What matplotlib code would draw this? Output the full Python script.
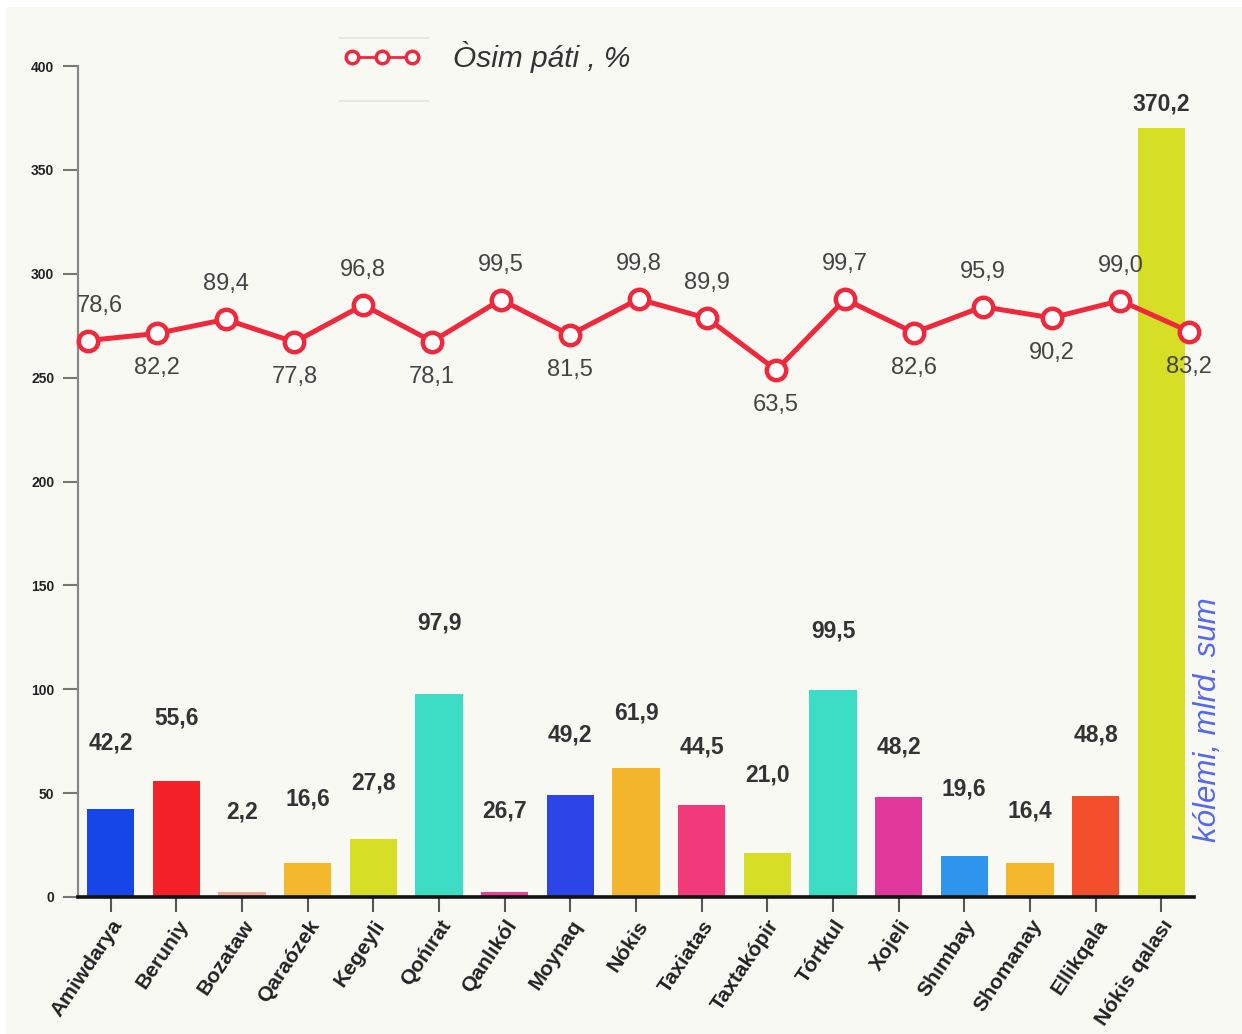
import matplotlib
matplotlib.use("Agg")
import matplotlib.pyplot as plt
from matplotlib.lines import Line2D
from matplotlib.patches import Rectangle

plt.rcParams['font.family'] = ['Liberation Sans', 'DejaVu Sans']

# ---- data ----
districts = ["Amiwdarya", "Beruniy", "Bozataw", "Qaraózek", "Kegeyli", "Qońırat",
             "Qanlıkól", "Moynaq", "Nókis", "Taxiatas", "Taxtakópir", "Tórtkul",
             "Xojeli", "Shımbay", "Shomanay", "Ellikqala", "Nókis qalası"]
# bar heights as drawn in the picture (Qanlıkól bar is drawn near zero)
volume = [42.2, 55.6, 2.2, 16.6, 27.8, 97.9, 2.4, 49.2, 61.9, 44.5, 21.0, 99.5,
          48.2, 19.6, 16.4, 48.8, 370.2]
# value labels printed above the bars
volume_labels = ["42,2", "55,6", "2,2", "16,6", "27,8", "97,9", "26,7", "49,2", "61,9",
                 "44,5", "21,0", "99,5", "48,2", "19,6", "16,4", "48,8", "370,2"]
growth = [78.6, 82.2, 89.4, 77.8, 96.8, 78.1, 99.5, 81.5, 99.8, 89.9, 63.5, 99.7,
          82.6, 95.9, 90.2, 99.0, 83.2]
y_ticks = [0, 50, 100, 150, 200, 250, 300, 350, 400]
legend_label = "Òsim páti , %"
axis_label = "kólemi, mlrd. sum"

# ---- styles ----
bar_colors = ["#1746e8", "#f42228", "#f3a493", "#f4b82c", "#d6de25", "#3ddcc4",
              "#e8409a", "#2b45e6", "#f4b62c", "#f23a7a", "#d6de25", "#3ddcc4",
              "#e0399b", "#2f95ec", "#f4b82c", "#f44f2c", "#d6de25"]
# label centre height above the bar top, in pixels
bar_label_offsets_px = [66, 63, 80, 64, 56, 71, 81, 60, 55, 58, 78, 59, 50, 67, 52, 61, 24]
line_label_side = [1, -1, 1, -1, 1, -1, 1, -1, 1, 1, -1, 1, -1, 1, -1, 1, -1]
line_color = "#f0283c"
PX = 0.72  # points per pixel at dpi 100

W, H = 1242, 1034
fig = plt.figure(figsize=(W / 100, H / 100), dpi=100, facecolor="white")
fig.add_artist(Rectangle((6 / W, 0), 1, 1 - 7 / H, transform=fig.transFigure,
                         facecolor="#f9f9f4", edgecolor="none", zorder=-10))

l, r, b, t = 78 / W, 1194 / W, 1 - 897 / H, 1 - 66 / H
ax = fig.add_axes([l, b, r - l, t - b])
ax.set_facecolor("none")

x = list(range(len(districts)))
ax.bar(x, volume, width=0.72, color=bar_colors, zorder=2)
ax.set_xlim(-0.5, len(districts) - 0.5)
ax.set_ylim(0, 400)
ax.set_yticks(y_ticks)
ax.set_yticklabels([str(v) for v in y_ticks], fontsize=10, fontweight="bold",
                   color="#222222", family=['Liberation Sans Narrow', 'Liberation Sans'])
ax.set_xticks(x)
ax.set_xticklabels(districts, rotation=56, ha="right", rotation_mode="anchor",
                   fontsize=15.2, fontweight="bold", color="#222222")
ax.tick_params(axis="y", length=11, width=1.5, color="#777777", pad=6)
ax.tick_params(axis="x", length=11, width=1.5, color="#555555", pad=3)
for s in ["top", "right"]:
    ax.spines[s].set_visible(False)
ax.spines["left"].set_color("#888888")
ax.spines["left"].set_linewidth(1.6)
ax.spines["bottom"].set_color("#111111")
ax.spines["bottom"].set_linewidth(2.6)
ax.spines["bottom"].set_zorder(5)

def fmt(v):
    return f"{v:.1f}".replace(".", ",")

for xi, v, lab, off in zip(x, volume, volume_labels, bar_label_offsets_px):
    ax.annotate(lab, (xi, v), xytext=(0, off * PX), textcoords="offset points",
                ha="center", va="center", fontsize=16.5, fontweight="bold", color="#333333")

# ---- line on hidden secondary scale ----
ax2 = fig.add_axes([l, b, r - l, t - b])
ax2.set_facecolor("none")
ax2.axis("off")
ax2.set_xlim(-0.145, len(growth) - 1 + 0.07)
ax2.set_ylim(-206, 219)
ax2.plot(range(len(growth)), growth, color=line_color, lw=3.6, marker="o",
         markersize=14, markerfacecolor="white", markeredgecolor=line_color,
         markeredgewidth=3.2, zorder=3, clip_on=False)
for i, (v, side) in enumerate(zip(growth, line_label_side)):
    dx = 12 if i == 0 else 0
    ax2.annotate(fmt(v), (i, v), xytext=(dx * PX, side * 35 * PX), textcoords="offset points",
                 ha="center", va="center", fontsize=17, color="#444444")

# ---- legend ----
handle = Line2D([], [], color=line_color, lw=2, marker="o", markersize=9,
                markerfacecolor="white", markeredgecolor=line_color, markeredgewidth=2.5)
fig.legend([handle], [legend_label], loc="center left",
           bbox_to_anchor=(343 / W, 1 - 57 / H), frameon=False, numpoints=3,
           handlelength=2.6, handletextpad=1.1, borderpad=0, borderaxespad=0,
           prop={"size": 21.5, "style": "italic"}, labelcolor="#333333")
for yy in (38, 101):
    fig.add_artist(Line2D([340 / W, 428 / W], [1 - yy / H, 1 - yy / H],
                          transform=fig.transFigure, color="#e6e6e6", lw=1.5))

fig.text(1208 / W, 1 - 720 / H, axis_label, rotation=90, ha="center", va="center",
         fontsize=22.5, style="italic", color="#5468f0")

fig.savefig("out.png", dpi=100, facecolor=fig.get_facecolor())
